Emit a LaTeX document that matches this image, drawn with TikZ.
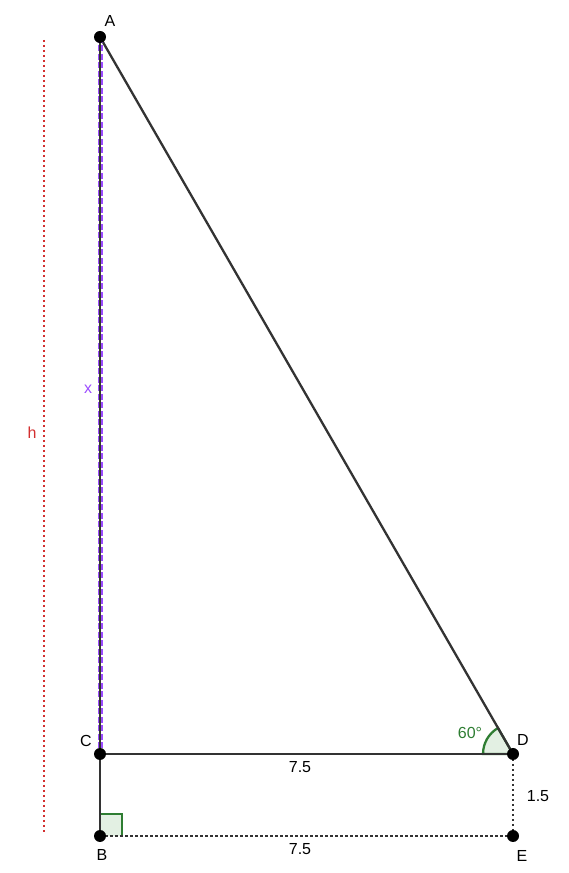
\documentclass[tikz,border=0pt]{standalone}
\usepackage{fontspec}
\setmainfont{Liberation Sans}
\usetikzlibrary{positioning,scopes}

\definecolor{segcol}{HTML}{333333}
\definecolor{hcol}{HTML}{D32F2F}
\definecolor{xcol}{HTML}{9C4DFF}
\definecolor{angcol}{HTML}{2E7D32}
\definecolor{angfill}{HTML}{E3F0E3}

\tikzset{
	dot/.style={circle, fill=black, inner sep=0pt, minimum size=12pt},
	seg/.style={segcol, line width=2.3pt},
	dotline/.style={segcol, line width=2.5pt, dash pattern=on 2.5pt off 2.5pt},
	lbl/.style={font=\fontsize{16}{18}\selectfont, inner sep=0pt}
}

\begin{document}
\begin{tikzpicture}[x=1pt, y=1pt]
	\useasboundingbox (0,0) rectangle (568,873);

	\coordinate (A) at (100,836);
	\coordinate (C) at (100,119);
	\coordinate (D) at (513,119);
	\coordinate (B) at (100,37);
	\coordinate (E) at (513,37);
	\coordinate (htop) at (44,833);
	\coordinate (hbot) at (44,40);

	% angle at D and right angle at B
	\filldraw[fill=angfill, draw=angcol, line width=2.3pt] (D) -- ++(180:30) arc (180:120:30) -- cycle;
	\fill[angfill] (B) rectangle ++(22,22);
	\draw[angcol, line width=2.3pt] (B) ++(0,22) -| ++(22,-22);

	{ [seg]
		\draw (A) -- (D);
		\draw (C) -- (D);
		\draw (C) -- (B);
	}
	{ [dotline]
		\draw (B) -- (E);
		\draw (D) -- (E);
	}
	\draw[hcol, line width=2.5pt, dash pattern=on 2.5pt off 2.5pt] (htop) -- (hbot);
	\draw[xcol, line width=5pt, dash pattern=on 6pt off 2.5pt] (A) -- (C);
	\draw[segcol, line width=1.3pt] (A) -- (C);

	% points
	{ [every node/.style=dot]
		\node (pA) at (A) {};
		\node (pC) at (C) {};
		\node (pD) at (D) {};
		\node (pB) at (B) {};
		\node (pE) at (E) {};
	}

	{ [every node/.style=lbl]
		\node (lA) at (110,852) {A};
		\node (lC) at (86,132) {C};
		\node (lD) at (523,133) {D};
		\node (lB) at (102,18) {B};
		\node (lE) at (522,17) {E};
		\node (lCD) at (300,106) {7.5};
		\node (lBE) at (300,24) {7.5};
		\node (lDE) at (538,77) {1.5};
		\node[text=angcol] (lang) at (470,140) {60°};
		\node[text=xcol] (lx) at (88,484) {x};
		\node[text=hcol] (lh) at (32,440) {h};
	}
\end{tikzpicture}
\end{document}
